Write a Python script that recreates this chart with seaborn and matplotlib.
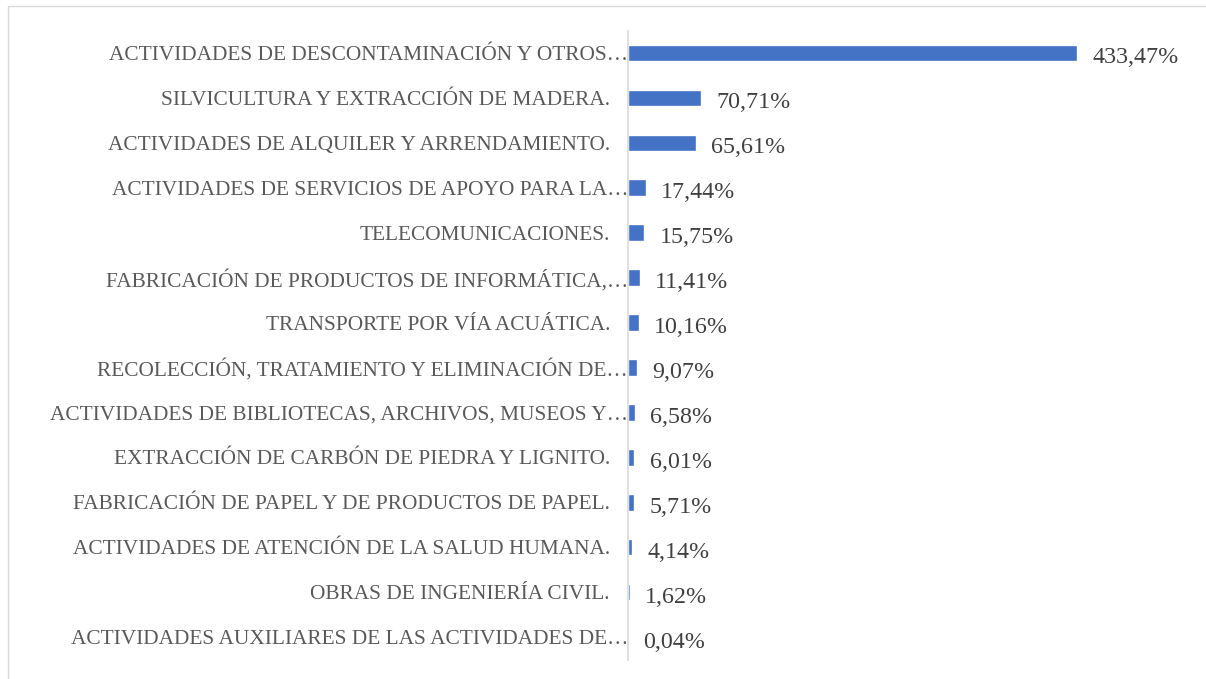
import pandas as pd
import matplotlib.pyplot as plt
import seaborn as sns
from matplotlib.patches import Rectangle
from matplotlib.transforms import ScaledTranslation

actividades = [
    "ACTIVIDADES DE DESCONTAMINACIÓN Y OTROS…",
    "SILVICULTURA Y EXTRACCIÓN DE MADERA.",
    "ACTIVIDADES DE ALQUILER Y ARRENDAMIENTO.",
    "ACTIVIDADES DE SERVICIOS DE APOYO PARA LA…",
    "TELECOMUNICACIONES.",
    "FABRICACIÓN DE PRODUCTOS DE INFORMÁTICA,…",
    "TRANSPORTE POR VÍA ACUÁTICA.",
    "RECOLECCIÓN, TRATAMIENTO Y ELIMINACIÓN DE…",
    "ACTIVIDADES DE BIBLIOTECAS, ARCHIVOS, MUSEOS Y…",
    "EXTRACCIÓN DE CARBÓN DE PIEDRA Y LIGNITO.",
    "FABRICACIÓN DE PAPEL Y DE PRODUCTOS DE PAPEL.",
    "ACTIVIDADES DE ATENCIÓN DE LA SALUD HUMANA.",
    "OBRAS DE INGENIERÍA CIVIL.",
    "ACTIVIDADES AUXILIARES DE LAS ACTIVIDADES DE…",
]
variacion = [433.47, 70.71, 65.61, 17.44, 15.75, 11.41, 10.16,
             9.07, 6.58, 6.01, 5.71, 4.14, 1.62, 0.04]

df = pd.DataFrame({"actividad": actividades, "variacion": variacion})

sns.set_style("white")
plt.rcParams["font.family"] = ["Liberation Serif", "DejaVu Serif"]

W, H = 1206, 679
fig = plt.figure(figsize=(W / 100, H / 100), dpi=100)
ax = fig.add_axes([628 / W, 1 - 659.5 / H, 549 / W, 629 / H])

sns.barplot(data=df, x="variacion", y="actividad", color="#4472C4",
            width=0.37, saturation=1, ax=ax)

ax.set_xlim(0, 530)
ax.set_xlabel("")
ax.set_ylabel("")
ax.set_xticks([])
for s in ["top", "right", "bottom"]:
    ax.spines[s].set_visible(False)
ax.spines["left"].set_color("#D9D9D9")
ax.spines["left"].set_linewidth(1.2)

ax.tick_params(axis="y", length=0, pad=13, labelsize=15.4, labelcolor="#595959")
for lbl in ax.get_yticklabels():
    if lbl.get_text().endswith("…"):
        lbl.set_transform(lbl.get_transform() + ScaledTranslation(13 / 72, 0, fig.dpi_scale_trans))

labels = [f"{v:.2f}%".replace(".", ",") for v in variacion]
texts = ax.bar_label(ax.containers[0], labels=labels, padding=11, fontsize=17.3, color="#404040")
for t in texts:
    t.xyann = (t.xyann[0], t.xyann[1] - 3.6)

fig.patches.append(Rectangle((8 / W, -0.1), 1.2, 1 - 6 / H + 0.1, transform=fig.transFigure,
                             fill=False, edgecolor="#D9D9D9", linewidth=1))

fig.savefig("out.png", dpi=100)
